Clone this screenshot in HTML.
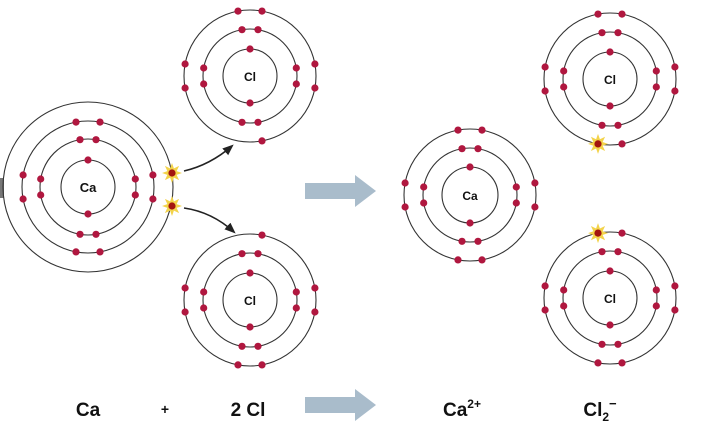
<!DOCTYPE html>
<html><head><meta charset="utf-8"><style>
html,body{margin:0;padding:0;background:#fff;width:720px;height:429px;overflow:hidden}
svg{display:block}
text{font-family:"Liberation Sans",sans-serif;font-weight:bold;fill:#111}
</style></head><body>
<svg id="s" width="720" height="429" viewBox="0 0 720 429" xmlns="http://www.w3.org/2000/svg">
<defs>
<marker id="ah" viewBox="0 0 10 10" refX="8" refY="5" markerWidth="7" markerHeight="7" orient="auto"><path d="M0,1 L10,5 L0,9 z" fill="#222"/></marker>
</defs>
<rect x="0" y="178" width="4" height="20" fill="#777"/>
<g id="g"></g>
<path d="M184,171 Q210,165 232,146" fill="none" stroke="#222" stroke-width="1.6" marker-end="url(#ah)"/>
<path d="M184,208 Q212,212 234,232" fill="none" stroke="#222" stroke-width="1.6" marker-end="url(#ah)"/>
<polygon points="305,183 355,183 355,175 376,191 355,207 355,199 305,199" fill="#a9bccb"/>
<polygon points="305,397 355,397 355,389 376,405 355,421 355,413 305,413" fill="#a9bccb"/>
<text x="88" y="416" font-size="19" text-anchor="middle">Ca</text>
<text x="165" y="414" font-size="14" text-anchor="middle" font-weight="normal">+</text>
<text x="248" y="416" font-size="19" text-anchor="middle">2 Cl</text>
<text x="462" y="416" font-size="19" text-anchor="middle">Ca<tspan font-size="12" dy="-8">2+</tspan></text>
<text x="600" y="416" font-size="19" text-anchor="middle">Cl<tspan font-size="12" dy="5">2</tspan><tspan font-size="13" dy="-13">−</tspan></text>
</svg>
<script>
const g=document.getElementById('g');let h='';
function circ(cx,cy,r){h+=`<circle cx="${cx}" cy="${cy}" r="${r}" fill="none" stroke="#333" stroke-width="1.1"/>`;}
function e(x,y){h+=`<circle cx="${x.toFixed(1)}" cy="${y.toFixed(1)}" r="3.6" fill="#b0173f"/>`;}
function flash(x,y){let p=[];for(let i=0;i<16;i++){let a=i*Math.PI/8,r=i%2?5:10;p.push((x+r*Math.cos(a)).toFixed(1)+','+(y+r*Math.sin(a)).toFixed(1));}
h+=`<polygon points="${p.join(' ')}" fill="#f3d34a"/><circle cx="${x}" cy="${y}" r="3.6" fill="#a3140f"/>`;}
function pos(cx,cy,r,deg){let a=deg*Math.PI/180;return [cx+r*Math.cos(a),cy+r*Math.sin(a)];}
function shell(cx,cy,r,hs,angs,skip){circ(cx,cy,r);let d=Math.asin(hs/r)*180/Math.PI;let k=0;
 angs.forEach(t=>{[t-d,t+d].forEach(a=>{if(!(skip||[]).includes(k)){let p=pos(cx,cy,r,a);e(p[0],p[1]);}k++;});});}
function first(cx,cy,r){circ(cx,cy,r);e(cx,cy-r);e(cx,cy+r);}
const A=[0,90,180,270];
(function(){let cx=88,cy=187;first(cx,cy,27);shell(cx,cy,48,8,A);shell(cx,cy,66,12,A);circ(cx,cy,85);
 h+=`<text x="${cx}" y="${cy+5}" font-size="13" text-anchor="middle">Ca</text>`;})();
flash(172,173);flash(172,206);
function cl(cx,cy,skip){first(cx,cy,27);shell(cx,cy,47,8,A);shell(cx,cy,66,12,A,skip);
 h+=`<text x="${cx}" y="${cy+5}" font-size="12" text-anchor="middle">Cl</text>`;}
cl(250,76,[3]);cl(250,300,[6]);
(function(){let cx=470,cy=195;first(cx,cy,28);shell(cx,cy,47,8,A);shell(cx,cy,66,12,A);
 h+=`<text x="${cx}" y="${cy+5}" font-size="12" text-anchor="middle">Ca</text>`;})();
cl(610,79,[3]);{let p=pos(610,79,66,90+Math.asin(12/66)*180/Math.PI);flash(p[0],p[1]);}
cl(610,298,[6]);{let p=pos(610,298,66,270-Math.asin(12/66)*180/Math.PI);flash(p[0],p[1]);}
g.innerHTML=h;
</script>
</body></html>
